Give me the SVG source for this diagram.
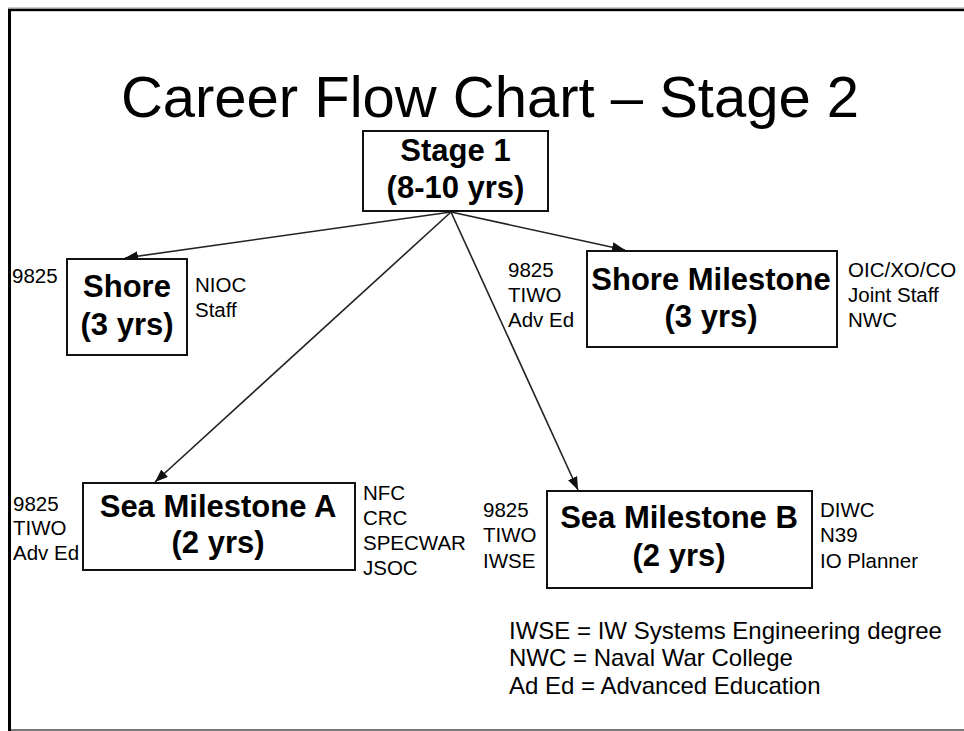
<svg xmlns="http://www.w3.org/2000/svg" width="964" height="731" viewBox="0 0 964 731">
<defs>
<style>
.box{fill:#fff;stroke:#111;stroke-width:2}
.bt{font-family:"Liberation Sans",Arial,sans-serif;font-weight:bold;font-size:31px;fill:#000;text-anchor:middle}
.lb{font-family:"Liberation Sans",Arial,sans-serif;font-size:20.5px;fill:#000}
.lg{font-family:"Liberation Sans",Arial,sans-serif;font-size:24px;fill:#000}
.ttl{font-family:"Liberation Sans",Arial,sans-serif;font-size:58px;fill:#000;text-anchor:middle}
.con{stroke:#222;stroke-width:1.6;fill:none;marker-end:url(#ah)}
</style>
<marker id="ah" markerUnits="userSpaceOnUse" markerWidth="14" markerHeight="10" refX="13" refY="5" orient="auto">
<path d="M0,0 L13,5 L0,10 z" fill="#111"/>
</marker>
</defs>
<rect x="0" y="0" width="964" height="731" fill="#fff"/>
<g id="frame">
<rect x="8" y="7.5" width="956" height="1.5" fill="#999"/>
<rect x="8" y="9" width="956" height="2.2" fill="#000"/>
<rect x="8" y="9" width="3" height="722" fill="#000"/>
<rect x="11" y="729" width="953" height="2" fill="#777"/>
</g>
<text id="title" class="ttl" x="490" y="117">Career Flow Chart – Stage 2</text>
<g id="connectors">
<line class="con" x1="451" y1="212" x2="125" y2="258"/>
<line class="con" x1="451" y1="212" x2="625" y2="250"/>
<line class="con" x1="451" y1="212" x2="155" y2="482"/>
<line class="con" x1="451" y1="212" x2="578" y2="490"/>
</g>
<g id="stage1">
<rect class="box" x="363" y="131" width="185" height="80"/>
<text class="bt" x="455.5" y="161">Stage 1</text>
<text class="bt" x="455.5" y="198">(8-10 yrs)</text>
</g>
<g id="shore">
<rect class="box" x="67" y="259" width="120" height="96"/>
<text class="bt" x="127" y="297">Shore</text>
<text class="bt" x="127" y="335">(3 yrs)</text>
<text class="lb" x="12" y="283">9825</text>
<text class="lb" x="195" y="292">NIOC</text>
<text class="lb" x="195" y="317">Staff</text>
</g>
<g id="shore-milestone">
<rect class="box" x="587" y="251" width="250" height="96"/>
<text class="bt" x="711" y="290">Shore Milestone</text>
<text class="bt" x="711" y="327">(3 yrs)</text>
<text class="lb" x="508" y="277">9825</text>
<text class="lb" x="508" y="302">TIWO</text>
<text class="lb" x="508" y="327">Adv Ed</text>
<text class="lb" x="848" y="277">OIC/XO/CO</text>
<text class="lb" x="848" y="302">Joint Staff</text>
<text class="lb" x="848" y="327">NWC</text>
</g>
<g id="sea-milestone-a">
<rect class="box" x="83" y="483" width="272" height="87"/>
<text class="bt" x="218" y="517">Sea Milestone A</text>
<text class="bt" x="218" y="553">(2 yrs)</text>
<text class="lb" x="13" y="511">9825</text>
<text class="lb" x="13" y="535">TIWO</text>
<text class="lb" x="13" y="560">Adv Ed</text>
<text class="lb" x="363" y="500">NFC</text>
<text class="lb" x="363" y="525">CRC</text>
<text class="lb" x="363" y="550">SPECWAR</text>
<text class="lb" x="363" y="575">JSOC</text>
</g>
<g id="sea-milestone-b">
<rect class="box" x="547" y="491" width="265" height="97"/>
<text class="bt" x="679" y="528">Sea Milestone B</text>
<text class="bt" x="679" y="566">(2 yrs)</text>
<text class="lb" x="483" y="517">9825</text>
<text class="lb" x="483" y="542">TIWO</text>
<text class="lb" x="483" y="568">IWSE</text>
<text class="lb" x="820" y="517">DIWC</text>
<text class="lb" x="820" y="542">N39</text>
<text class="lb" x="820" y="568">IO Planner</text>
</g>
<g id="legend">
<text class="lg" x="509" y="639">IWSE = IW Systems Engineering degree</text>
<text class="lg" x="509" y="666">NWC = Naval War College</text>
<text class="lg" x="509" y="694">Ad Ed = Advanced Education</text>
</g>
</svg>
